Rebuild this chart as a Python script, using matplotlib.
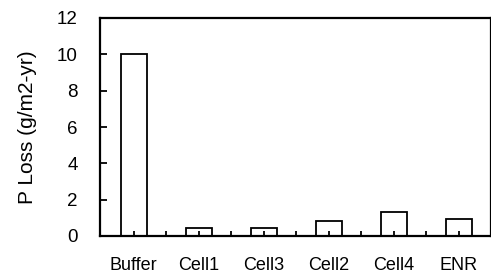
import matplotlib.pyplot as plt
import numpy as np

categories = ['Buffer', 'Cell1', 'Cell3', 'Cell2', 'Cell4', 'ENR']
p_loss = [10.0, 0.42, 0.44, 0.84, 1.3, 0.95]

plt.rcParams['font.family'] = ['Liberation Sans', 'DejaVu Sans']

fig = plt.figure(figsize=(4.91, 2.77), dpi=100)
ax = fig.add_axes([100 / 491, 41 / 277, 1 - 100 / 491, 218 / 277])

x = np.arange(len(categories))
ax.bar(x, p_loss, width=0.40, facecolor='white', edgecolor='black', linewidth=1.3, zorder=1)

ax.set_xlim(-0.516, 5.42)
ax.set_ylim(0, 12)
ax.set_yticks(range(0, 13, 2))
ax.set_xticks(x)
ax.set_xticklabels(categories)
ax.set_xticks(np.arange(len(categories)) + 0.5, minor=True)

ax.tick_params(axis='y', direction='in', length=5, width=1.3, pad=16, labelsize=13.5)
ax.tick_params(axis='x', which='both', direction='in', length=3.5, width=1.3, pad=15, labelsize=13)

for side in ['left', 'bottom', 'top', 'right']:
    ax.spines[side].set_linewidth(1.6)

ax.set_ylabel('P Loss (g/m2-yr)', fontsize=15)
ax.yaxis.set_label_coords(-0.161, 0.5)

fig.savefig('out.png', dpi=100)
